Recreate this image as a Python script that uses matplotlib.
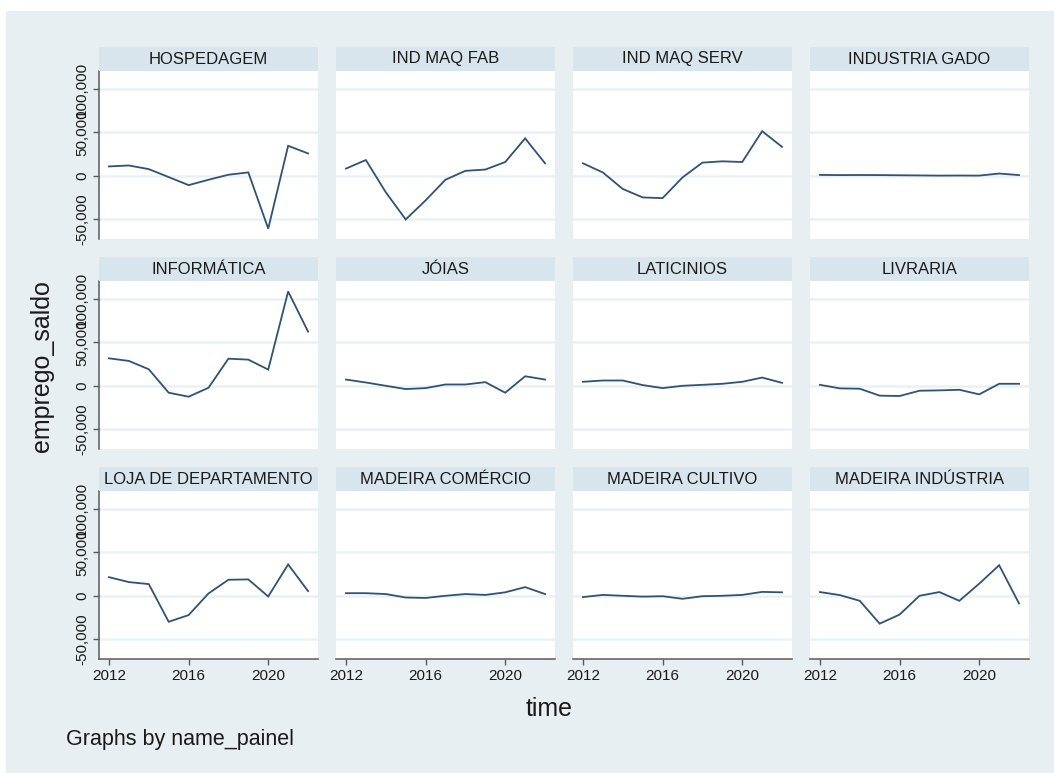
import matplotlib
matplotlib.use("Agg")
import matplotlib.pyplot as plt
from matplotlib.patches import Rectangle
from matplotlib.ticker import FuncFormatter

plt.rcParams["font.family"] = ["Liberation Sans", "DejaVu Sans"]

# ---- data -------------------------------------------------------------
years = [2012, 2013, 2014, 2015, 2016, 2017, 2018, 2019, 2020, 2021, 2022]

panel_names = [
    "HOSPEDAGEM", "IND MAQ FAB", "IND MAQ SERV", "INDUSTRIA GADO",
    "INFORMÁTICA", "JÓIAS", "LATICINIOS", "LIVRARIA",
    "LOJA DE DEPARTAMENTO", "MADEIRA COMÉRCIO", "MADEIRA CULTIVO", "MADEIRA INDÚSTRIA",
]

hospedagem = [10800, 11900, 7700, -1500, -10800, -4600, 1200, 3900, -61000, 34600, 25800]
ind_maq_fab = [8300, 18200, -19000, -50400, -28400, -4500, 5700, 7200, 15900, 43200, 14400]
ind_maq_serv = [14400, 3800, -15200, -25000, -25800, -1900, 15200, 16700, 15900, 51500, 33400]
industria_gado = [1000, 800, 900, 800, 600, 400, 200, 300, 200, 2600, 800]
informatica = [31700, 28700, 19100, -8000, -12600, -2300, 31300, 30200, 18700, 108900, 62600]
joias = [7200, 3800, 0, -3800, -2700, 1500, 1500, 4200, -8000, 11000, 7200]
laticinios = [4600, 6100, 6100, 800, -2700, 0, 1100, 2300, 4600, 9500, 3400]
livraria = [1100, -3000, -3400, -11400, -11800, -5700, -5300, -4600, -9900, 2300, 2300]
loja_departamento = [21500, 15800, 13500, -30000, -22300, 2700, 18500, 18900, -800, 36200, 5400]
madeira_comercio = [3000, 3000, 2000, -2000, -2500, 0, 2000, 1000, 4000, 10000, 2000]
madeira_cultivo = [-1500, 1000, 0, -1000, -500, -3500, -500, 0, 1000, 4500, 4000]
madeira_industria = [4300, 800, -5800, -32200, -21700, 0, 4300, -5800, 14000, 35300, -8900]

panel_values = [
    hospedagem, ind_maq_fab, ind_maq_serv, industria_gado,
    informatica, joias, laticinios, livraria,
    loja_departamento, madeira_comercio, madeira_cultivo, madeira_industria,
]

y_ticks = [-50000, 0, 50000, 100000]
x_ticks = [2012, 2016, 2020]

# ---- styling ----------------------------------------------------------
BG = "#e8eff2"
STRIP = "#d9e5ec"
GRID = "#eaf1f4"
LINE = "#2f5275"
SPINE = "#5a5a5a"
TEXT = "#1a1a1a"

W, H = 1054, 773
fig = plt.figure(figsize=(W / 100, H / 100), dpi=100, facecolor="white")
fig.patches.append(Rectangle((6 / W, 0), 1 - 6 / W, 1 - 11 / H,
                             transform=fig.transFigure, facecolor=BG,
                             edgecolor="none", zorder=-10))

col_left = [99, 336, 573, 810]
row_top = [71, 281, 491]
pw, ph, sh = 219, 168, 24

fmt = FuncFormatter(lambda v, p: f"{int(v):,}")

for i, (name, vals) in enumerate(zip(panel_names, panel_values)):
    r, c = divmod(i, 4)
    L, T = col_left[c], row_top[r]

    ax = fig.add_axes([L / W, 1 - (T + ph) / H, pw / W, ph / H])
    ax.set_facecolor("white")
    ax.plot(years, vals, color=LINE, lw=1.3, solid_joinstyle="miter", zorder=3)
    ax.set_xlim(2011.5, 2022.5)
    ax.set_ylim(-73000, 121000)
    ax.set_yticks(y_ticks)
    ax.set_xticks(x_ticks)
    ax.yaxis.set_major_formatter(fmt)
    ax.set_axisbelow(True)
    ax.grid(axis="y", color=GRID, lw=1.8)
    for s in ax.spines.values():
        s.set_visible(False)

    if c == 0:
        ax.spines["left"].set_visible(True)
        ax.spines["left"].set_color(SPINE)
        ax.spines["left"].set_linewidth(1.1)
        ax.tick_params(axis="y", length=4, width=1, color=SPINE, pad=3,
                       labelsize=11, labelcolor=TEXT, labelrotation=90)
        for lab in ax.get_yticklabels():
            lab.set_va("center")
    else:
        ax.tick_params(axis="y", left=False, labelleft=False)

    if r == 2:
        ax.spines["bottom"].set_visible(True)
        ax.spines["bottom"].set_color(SPINE)
        ax.spines["bottom"].set_linewidth(1.1)
        ax.tick_params(axis="x", length=4, width=1, color=SPINE, pad=3,
                       labelsize=11, labelcolor=TEXT)
    else:
        ax.tick_params(axis="x", bottom=False, labelbottom=False)

    sax = fig.add_axes([L / W, 1 - T / H, pw / W, sh / H])
    sax.set_facecolor(STRIP)
    sax.set_xticks([])
    sax.set_yticks([])
    for s in sax.spines.values():
        s.set_visible(False)
    sax.text(0.5, 0.5, name, ha="center", va="center", fontsize=12,
             color=TEXT, transform=sax.transAxes)

fig.text(42 / W, 1 - 366 / H, "emprego_saldo", rotation=90, ha="center",
         va="center", fontsize=18, color=TEXT)
fig.text(549 / W, 1 - 709 / H, "time", ha="center", va="center",
         fontsize=18, color=TEXT)
fig.text(66 / W, 1 - 740 / H, "Graphs by name_painel", ha="left",
         va="center", fontsize=15.5, color=TEXT)

fig.savefig("out.png", dpi=100, facecolor="white")
